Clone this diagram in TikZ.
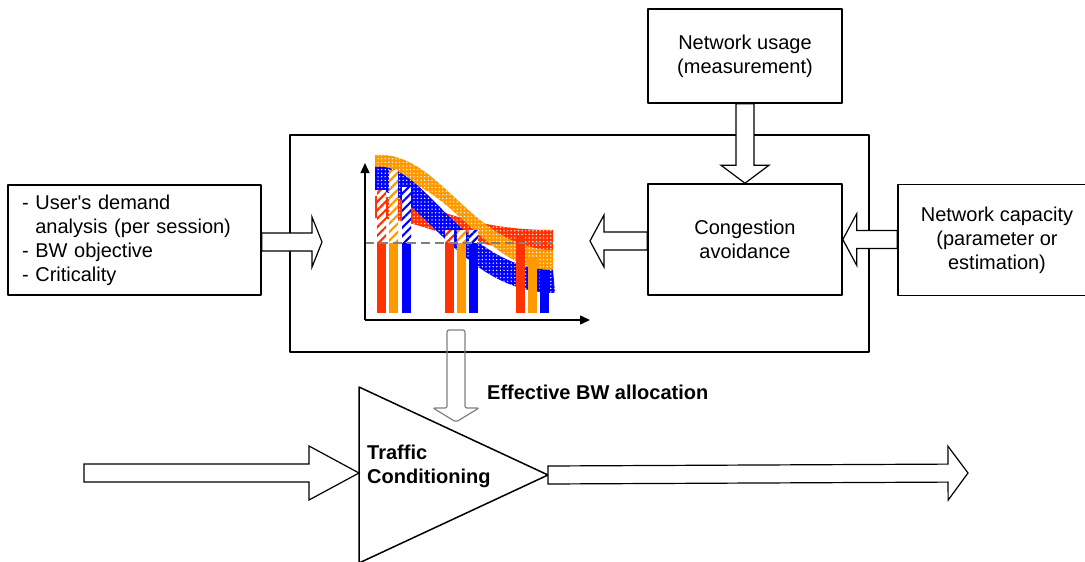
\documentclass[tikz,border=0pt]{standalone}
\usepackage{fontspec}
\setmainfont{Liberation Sans}[Ligatures=TeXOff]
\usetikzlibrary{calc,patterns,patterns.meta,arrows.meta}

\definecolor{chartred}{RGB}{255,51,0}
\definecolor{chartorange}{RGB}{255,153,0}
\definecolor{chartblue}{RGB}{0,0,255}

\tikzset{
  box/.style={draw, line width=1.6pt, fill=white, align=center, inner sep=0pt,
    font=\fontsize{20}{24}\selectfont},
  blockarrow/.style={draw, fill=white, line width=1.2pt, line join=miter},
  band/.style={fill=#1, postaction={pattern={Dots[distance=3.6pt, radius=0.75pt]}, pattern color=white}},
  hatchbar/.style={fill=white, postaction={pattern={Lines[angle=45,distance=6pt,line width=2.2pt]}, pattern color=#1}},
  axis/.style={line width=1.3pt, -{Triangle[length=10pt,width=9pt]}},
  label/.style={font=\fontsize{20}{24}\selectfont\bfseries, align=left, inner sep=0pt},
}

% hollow block arrow: [style] start, tip, head length, head half width
\newcommand{\blockarrow}[5][]{%
  \path[blockarrow,#1] let \p1=#2, \p2=#3,
      \n1={veclen(\x2-\x1,\y2-\y1)},
      \n2={(\x2-\x1)/\n1}, \n3={(\y2-\y1)/\n1}
    in ({\x1-9*(\n3)},{\y1+9*(\n2)})
    -- ({\x2-#4*(\n2)-9*(\n3)},{\y2-#4*(\n3)+9*(\n2)})
    -- ({\x2-#4*(\n2)-#5*(\n3)},{\y2-#4*(\n3)+#5*(\n2)})
    -- (\p2)
    -- ({\x2-#4*(\n2)+#5*(\n3)},{\y2-#4*(\n3)-#5*(\n2)})
    -- ({\x2-#4*(\n2)+9*(\n3)},{\y2-#4*(\n3)-9*(\n2)})
    -- ({\x1+9*(\n3)},{\y1-9*(\n2)}) -- cycle;}

\begin{document}
\begin{tikzpicture}[x=1pt, y=-1pt, line join=round]
\useasboundingbox (0,0) rectangle (1085,562);

% --- main frame ---
\node[draw, line width=1.6pt, minimum width=579pt, minimum height=217pt, inner sep=0pt] (frame) at (579.5,243.5) {};

% free ends of the block arrows
\coordinate (chartin) at (322,242);
\coordinate (chartout) at (590,241);
\coordinate (frameout) at (456,330);
\coordinate (shaperin) at (456,422);
\coordinate (flowin) at (84,473);
\coordinate (flowout) at (968,473);

% --- boxes ---
\node[box, minimum width=194pt, minimum height=94pt] (usage) at (745,56) {Network usage\\(measurement)};
\node[box, minimum width=194pt, minimum height=111pt] (congestion) at (745,239.5) {Congestion\\avoidance};
\node[box, minimum width=198pt, minimum height=111pt] (capacity) at (997,240) {Network capacity\\(parameter or\\estimation)};
\node[box, align=left, text width=225pt, inner xsep=14pt, minimum height=110pt] (demand) at (134.5,240)
  {- User's demand\\\hphantom{- }analysis (per session)\\- BW objective\\- Criticality};

% --- block arrows ---
\blockarrow{(demand.east |- chartin)}{(chartin)}{10}{25}
\blockarrow{(usage.south)}{(congestion.north)}{18}{24}
\blockarrow{(congestion.west |- chartout)}{(chartout)}{14}{26}
\blockarrow{(capacity.west |- congestion.east)}{(congestion.east)}{14}{26}

% --- the chart ---
\fill[band=chartred] (375,196) .. controls (430,198) and (455,230) .. (553,230) -- (553,250) .. controls (455,250) and (430,220) .. (375,218) -- cycle;
\fill[band=chartorange] (375,155) .. controls (440,150) and (470,248) .. (553,250) -- (553,270) .. controls (480,270) and (450,172) .. (375,177) -- cycle;
\fill[band=chartblue] (375,167) .. controls (425,160) and (460,268) .. (553,270) -- (555,293) .. controls (460,292) and (425,192) .. (375,190) -- cycle;

% bars, hatched part above the line
\foreach \x/\c/\top in {377/chartred/190, 389/chartorange/170, 402/chartblue/187} {
  \fill[hatchbar=\c] (\x,\top) rectangle (\x+9,243);
  \fill[\c] (\x,243) rectangle (\x+9,313);
}
\foreach \x/\c in {445/chartred, 457/chartorange, 469/chartblue} {
  \fill[hatchbar=\c] (\x,230) rectangle (\x+9,243);
  \fill[\c] (\x,243) rectangle (\x+9,313);
}
\foreach \x/\c/\top in {516/chartred/237, 528/chartorange/258, 540/chartblue/270}
  \fill[\c] (\x,\top) rectangle (\x+9,313);

\draw[line width=2.5pt, gray, dash pattern=on 9pt off 5pt] (365,243) -- (553,243);
\draw[axis] (365,320) -- (365,163);
\draw[axis] (365,320) -- (590,320);

% --- traffic conditioning ---
\coordinate (tritop) at (359,387);
\coordinate (tribot) at (359,563);
\coordinate (triapex) at (548,475);
\draw[line width=1.5pt] (tritop) -- (triapex) -- (tribot) -- cycle;
\node[label, anchor=west] (traffic) at (367,466) {Traffic\\Conditioning};
\node[label, anchor=west] (alloc) at (487,392) {Effective BW allocation};

\blockarrow[fill=none, draw=gray, rounded corners=2pt]{(frameout)}{(shaperin)}{14}{23}
\blockarrow{(flowin)}{(flowin -| tritop)}{50}{27}
\blockarrow{(triapex)}{(flowout)}{20}{27}

\end{tikzpicture}
\end{document}
